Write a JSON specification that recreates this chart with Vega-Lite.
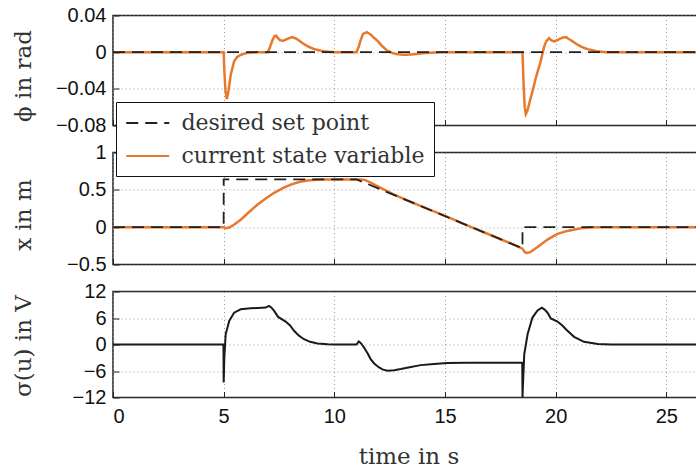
{
  "$schema": "https://vega.github.io/schema/vega-lite/v6.json",
  "autosize": "pad",
  "padding": {"left": 11, "top": 4.5, "right": 0, "bottom": 0},
  "background": "white",
  "datasets": {
    "phi": [
      {"t": 0, "v": 0, "s": "current state variable"},
      {"t": 5.0, "v": 0, "s": "current state variable"},
      {"t": 5.03, "v": -0.02, "s": "current state variable"},
      {"t": 5.08, "v": -0.042, "s": "current state variable"},
      {"t": 5.14, "v": -0.0512, "s": "current state variable"},
      {"t": 5.2, "v": -0.045, "s": "current state variable"},
      {"t": 5.32, "v": -0.0246, "s": "current state variable"},
      {"t": 5.47, "v": -0.0101, "s": "current state variable"},
      {"t": 5.6, "v": -0.0055, "s": "current state variable"},
      {"t": 5.77, "v": -0.0029, "s": "current state variable"},
      {"t": 6.0, "v": -0.0012, "s": "current state variable"},
      {"t": 6.22, "v": -0.0004, "s": "current state variable"},
      {"t": 6.67, "v": 0, "s": "current state variable"},
      {"t": 7.0, "v": 0, "s": "current state variable"},
      {"t": 7.1, "v": 0.006, "s": "current state variable"},
      {"t": 7.2, "v": 0.013, "s": "current state variable"},
      {"t": 7.3, "v": 0.0175, "s": "current state variable"},
      {"t": 7.37, "v": 0.0179, "s": "current state variable"},
      {"t": 7.45, "v": 0.0155, "s": "current state variable"},
      {"t": 7.55, "v": 0.013, "s": "current state variable"},
      {"t": 7.7, "v": 0.0124, "s": "current state variable"},
      {"t": 7.9, "v": 0.0148, "s": "current state variable"},
      {"t": 8.1, "v": 0.0164, "s": "current state variable"},
      {"t": 8.3, "v": 0.0145, "s": "current state variable"},
      {"t": 8.63, "v": 0.0087, "s": "current state variable"},
      {"t": 8.85, "v": 0.0058, "s": "current state variable"},
      {"t": 9.09, "v": 0.0033, "s": "current state variable"},
      {"t": 9.54, "v": 0.0008, "s": "current state variable"},
      {"t": 10.0, "v": 0, "s": "current state variable"},
      {"t": 11.0, "v": 0, "s": "current state variable"},
      {"t": 11.1, "v": 0.006, "s": "current state variable"},
      {"t": 11.2, "v": 0.014, "s": "current state variable"},
      {"t": 11.3, "v": 0.02, "s": "current state variable"},
      {"t": 11.47, "v": 0.0218, "s": "current state variable"},
      {"t": 11.65, "v": 0.019, "s": "current state variable"},
      {"t": 11.8, "v": 0.0155, "s": "current state variable"},
      {"t": 11.95, "v": 0.0124, "s": "current state variable"},
      {"t": 12.15, "v": 0.0068, "s": "current state variable"},
      {"t": 12.4, "v": 0.0015, "s": "current state variable"},
      {"t": 12.65, "v": -0.0012, "s": "current state variable"},
      {"t": 12.85, "v": -0.0022, "s": "current state variable"},
      {"t": 13.15, "v": -0.0029, "s": "current state variable"},
      {"t": 13.5, "v": -0.0025, "s": "current state variable"},
      {"t": 14.06, "v": -0.0011, "s": "current state variable"},
      {"t": 14.5, "v": -0.0004, "s": "current state variable"},
      {"t": 14.96, "v": 0, "s": "current state variable"},
      {"t": 18.5, "v": 0, "s": "current state variable"},
      {"t": 18.55, "v": -0.035, "s": "current state variable"},
      {"t": 18.6, "v": -0.06, "s": "current state variable"},
      {"t": 18.65, "v": -0.0676, "s": "current state variable"},
      {"t": 18.72, "v": -0.064, "s": "current state variable"},
      {"t": 18.87, "v": -0.05, "s": "current state variable"},
      {"t": 19.0, "v": -0.038, "s": "current state variable"},
      {"t": 19.1, "v": -0.0283, "s": "current state variable"},
      {"t": 19.2, "v": -0.02, "s": "current state variable"},
      {"t": 19.3, "v": -0.012, "s": "current state variable"},
      {"t": 19.4, "v": -0.002, "s": "current state variable"},
      {"t": 19.48, "v": 0.0062, "s": "current state variable"},
      {"t": 19.58, "v": 0.012, "s": "current state variable"},
      {"t": 19.7, "v": 0.0153, "s": "current state variable"},
      {"t": 19.8, "v": 0.013, "s": "current state variable"},
      {"t": 19.93, "v": 0.0117, "s": "current state variable"},
      {"t": 20.1, "v": 0.0135, "s": "current state variable"},
      {"t": 20.3, "v": 0.0158, "s": "current state variable"},
      {"t": 20.46, "v": 0.0164, "s": "current state variable"},
      {"t": 20.7, "v": 0.0128, "s": "current state variable"},
      {"t": 20.99, "v": 0.0081, "s": "current state variable"},
      {"t": 21.2, "v": 0.0055, "s": "current state variable"},
      {"t": 21.44, "v": 0.0033, "s": "current state variable"},
      {"t": 21.89, "v": 0.0008, "s": "current state variable"},
      {"t": 22.3, "v": 0, "s": "current state variable"},
      {"t": 26.7, "v": 0, "s": "current state variable"},
      {"t": 0, "v": 0, "s": "desired set point"},
      {"t": 26.7, "v": 0, "s": "desired set point"}
    ],
    "pos": [
      {"t": 0, "v": 0, "s": "current state variable"},
      {"t": 5.0, "v": 0, "s": "current state variable"},
      {"t": 5.1, "v": -0.014, "s": "current state variable"},
      {"t": 5.25, "v": -0.005, "s": "current state variable"},
      {"t": 5.4, "v": 0.02, "s": "current state variable"},
      {"t": 5.77, "v": 0.099, "s": "current state variable"},
      {"t": 6.1, "v": 0.19, "s": "current state variable"},
      {"t": 6.52, "v": 0.3, "s": "current state variable"},
      {"t": 6.9, "v": 0.385, "s": "current state variable"},
      {"t": 7.28, "v": 0.46, "s": "current state variable"},
      {"t": 7.65, "v": 0.52, "s": "current state variable"},
      {"t": 8.03, "v": 0.57, "s": "current state variable"},
      {"t": 8.4, "v": 0.605, "s": "current state variable"},
      {"t": 8.78, "v": 0.626, "s": "current state variable"},
      {"t": 9.2, "v": 0.636, "s": "current state variable"},
      {"t": 9.54, "v": 0.639, "s": "current state variable"},
      {"t": 11.2, "v": 0.639, "s": "current state variable"},
      {"t": 11.4, "v": 0.63, "s": "current state variable"},
      {"t": 11.64, "v": 0.595, "s": "current state variable"},
      {"t": 12.09, "v": 0.527, "s": "current state variable"},
      {"t": 12.7, "v": 0.436, "s": "current state variable"},
      {"t": 13.5, "v": 0.332, "s": "current state variable"},
      {"t": 15.0, "v": 0.15, "s": "current state variable"},
      {"t": 16.0, "v": 0.025, "s": "current state variable"},
      {"t": 17.0, "v": -0.098, "s": "current state variable"},
      {"t": 18.0, "v": -0.221, "s": "current state variable"},
      {"t": 18.5, "v": -0.288, "s": "current state variable"},
      {"t": 18.6, "v": -0.335, "s": "current state variable"},
      {"t": 18.7, "v": -0.345, "s": "current state variable"},
      {"t": 18.85, "v": -0.335, "s": "current state variable"},
      {"t": 19.18, "v": -0.266, "s": "current state variable"},
      {"t": 19.63, "v": -0.166, "s": "current state variable"},
      {"t": 20.08, "v": -0.09, "s": "current state variable"},
      {"t": 20.53, "v": -0.05, "s": "current state variable"},
      {"t": 21.13, "v": -0.014, "s": "current state variable"},
      {"t": 21.7, "v": -0.002, "s": "current state variable"},
      {"t": 22.2, "v": 0, "s": "current state variable"},
      {"t": 26.7, "v": 0, "s": "current state variable"},
      {"t": 0, "v": 0, "s": "desired set point"},
      {"t": 4.999, "v": 0, "s": "desired set point"},
      {"t": 5.0, "v": 0.64, "s": "desired set point"},
      {"t": 11.0, "v": 0.64, "s": "desired set point"},
      {"t": 18.5, "v": -0.283, "s": "desired set point"},
      {"t": 18.501, "v": 0, "s": "desired set point"},
      {"t": 26.7, "v": 0, "s": "desired set point"}
    ],
    "sigma": [
      {"t": 0, "v": 0},
      {"t": 4.99, "v": 0},
      {"t": 5.0, "v": -8.6},
      {"t": 5.03, "v": -3},
      {"t": 5.09, "v": 2.3},
      {"t": 5.25, "v": 5.35},
      {"t": 5.47, "v": 7.2},
      {"t": 5.77, "v": 7.97},
      {"t": 6.22, "v": 8.2},
      {"t": 6.9, "v": 8.35},
      {"t": 7.05, "v": 8.73},
      {"t": 7.15, "v": 8.4},
      {"t": 7.28, "v": 7.6},
      {"t": 7.46, "v": 6.25},
      {"t": 7.8, "v": 5.2},
      {"t": 8.0, "v": 4.3},
      {"t": 8.18, "v": 3.1},
      {"t": 8.4, "v": 2.0},
      {"t": 8.63, "v": 1.2},
      {"t": 8.9, "v": 0.6},
      {"t": 9.24, "v": 0.23},
      {"t": 9.7, "v": 0.05},
      {"t": 10.0, "v": 0},
      {"t": 11.0, "v": 0},
      {"t": 11.1, "v": 0.68},
      {"t": 11.2, "v": 0.3},
      {"t": 11.34, "v": -0.68},
      {"t": 11.5, "v": -2.0},
      {"t": 11.64, "v": -3.3},
      {"t": 11.8, "v": -4.3},
      {"t": 12.02, "v": -5.2},
      {"t": 12.2, "v": -5.7},
      {"t": 12.4, "v": -5.95},
      {"t": 12.7, "v": -5.85},
      {"t": 13.0, "v": -5.57},
      {"t": 13.4, "v": -5.15},
      {"t": 13.9, "v": -4.67},
      {"t": 14.5, "v": -4.4},
      {"t": 15.11, "v": -4.2},
      {"t": 16.0, "v": -4.15},
      {"t": 18.49, "v": -4.15},
      {"t": 18.5, "v": -12},
      {"t": 18.53, "v": -8},
      {"t": 18.58, "v": -2.2},
      {"t": 18.73, "v": 2.3},
      {"t": 18.95, "v": 6.1},
      {"t": 19.18, "v": 7.7},
      {"t": 19.37, "v": 8.35},
      {"t": 19.5, "v": 7.9},
      {"t": 19.63, "v": 7.2},
      {"t": 19.78, "v": 5.9},
      {"t": 20.08, "v": 5.2},
      {"t": 20.3, "v": 4.3},
      {"t": 20.46, "v": 3.45},
      {"t": 20.83, "v": 1.74},
      {"t": 21.28, "v": 0.6},
      {"t": 21.9, "v": 0.1},
      {"t": 22.5, "v": 0},
      {"t": 26.7, "v": 0}
    ]
  },
  "bounds": "flush",
  "spacing": 27,
  "vconcat": [
    {
      "width": 591,
      "height": 110,
      "data": {"name": "phi"},
      "encoding": {
        "x": {"field": "t", "type": "quantitative", "scale": {"domain": [0, 26.7], "nice": false, "zero": false},
              "axis": {"labels": false, "title": null, "values": [0, 5, 10, 15, 20, 25]}},
        "y": {"field": "v", "type": "quantitative", "scale": {"domain": [-0.08, 0.04], "nice": false, "zero": false},
              "axis": {"title": "ϕ in rad", "values": [-0.08, -0.04, 0, 0.04], "labelExpr": "format(datum.value, '~g')", "titleX": -83, "titleY": 60, "titleBaseline": "alphabetic"}},
        "color": {"field": "s", "type": "nominal", "title": null,
                  "scale": {"domain": ["desired set point", "current state variable"], "range": ["#222222", "#e8782c"]},
                  "legend": {"symbolType": "M-1,0H3"}},
        "strokeDash": {"field": "s", "type": "nominal", "title": null,
                       "scale": {"domain": ["desired set point", "current state variable"], "range": [[12, 7], [1, 0]]},
                       "legend": {"symbolType": "M-1,0H3"}}
      },
      "layer": [
        {"transform": [{"filter": "datum.s == 'current state variable'"}], "mark": {"type": "line", "strokeWidth": 2.5}},
        {"transform": [{"filter": "datum.s == 'desired set point'"}], "mark": {"type": "line", "strokeWidth": 1.8}}
      ]
    },
    {
      "width": 591,
      "height": 112,
      "data": {"name": "pos"},
      "encoding": {
        "x": {"field": "t", "type": "quantitative", "scale": {"domain": [0, 26.7], "nice": false, "zero": false},
              "axis": {"labels": false, "title": null, "values": [0, 5, 10, 15, 20, 25]}},
        "y": {"field": "v", "type": "quantitative", "scale": {"domain": [-0.5, 1], "nice": false, "zero": false},
              "axis": {"title": "x in m", "values": [-0.5, 0, 0.5, 1], "labelExpr": "format(datum.value, '~g')", "titleX": -83, "titleY": 62, "titleBaseline": "alphabetic"}}
      },
      "layer": [
        {"transform": [{"filter": "datum.s == 'current state variable'"}], "mark": {"type": "line", "strokeWidth": 2.5, "color": "#e8782c"}},
        {"transform": [{"filter": "datum.s == 'desired set point'"}], "mark": {"type": "line", "strokeWidth": 1.8, "color": "#222222", "strokeDash": [12, 7]}}
      ]
    },
    {
      "width": 591,
      "height": 106,
      "data": {"name": "sigma"},
      "mark": {"type": "line", "strokeWidth": 2, "color": "#1a1a1a"},
      "encoding": {
        "x": {"field": "t", "type": "quantitative", "scale": {"domain": [0, 26.7], "nice": false, "zero": false},
              "axis": {"title": "time in s", "values": [0, 5, 10, 15, 20, 25], "labelPadding": 15, "titleY": 66, "titleBaseline": "alphabetic"}},
        "y": {"field": "v", "type": "quantitative", "scale": {"domain": [-12, 12], "nice": false, "zero": false},
              "axis": {"title": "σ(u) in V", "values": [-12, -6, 0, 6, 12], "labelExpr": "format(datum.value, '~g')", "titleX": -83, "titleY": 54, "titleBaseline": "alphabetic"}}
      }
    }
  ],
  "config": {
    "view": {"stroke": "#222222", "strokeWidth": 1.5},
    "axis": {
      "labelFont": "Liberation Sans", "labelFontSize": 20, "labelColor": "#111111",
      "titleFont": "DejaVu Serif", "titleFontSize": 23, "titleFontWeight": "normal", "titleColor": "#333333",
      "ticks": true, "tickSize": -6, "tickColor": "#222222", "tickWidth": 1,
      "domain": false, "grid": true, "gridColor": "#999999", "gridDash": [1, 3], "gridWidth": 1,
      "labelPadding": 13
    },
    "legend": {
      "orient": "none", "legendX": 3, "legendY": 86.5,
      "labelFont": "DejaVu Serif", "labelFontSize": 22, "labelColor": "#333333", "labelLimit": 500,
      "symbolSize": 462, "symbolStrokeWidth": 2.2, "labelOffset": 32.5,
      "padding": 9, "rowPadding": 10,
      "strokeColor": "#111111", "fillColor": "white"
    }
  }
}
